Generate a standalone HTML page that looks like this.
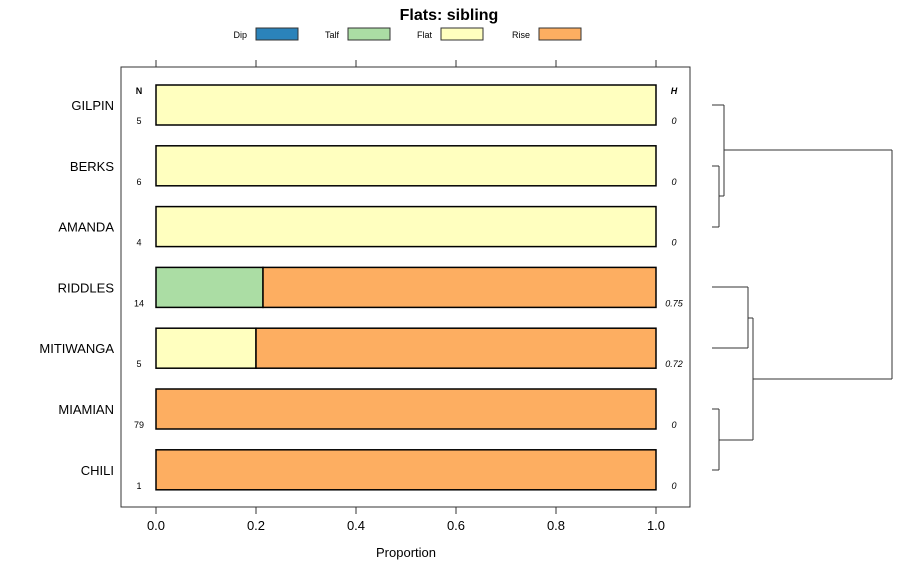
<!DOCTYPE html>
<html><head><meta charset="utf-8"><style>
body{margin:0;background:#fff;}
svg{font-family:"Liberation Sans",sans-serif;}
</style></head><body>
<svg id="c" width="900" height="580" viewBox="0 0 900 580">
<text x="449" y="20" font-size="16" font-weight="bold" text-anchor="middle">Flats: sibling</text>
<g id="legend"></g>
<rect x="121" y="67" width="569" height="440" fill="none" stroke="#333"/>
<g id="axes"></g>
<g id="bars"></g>
<g id="dendro" stroke="#333" fill="none"></g>
<text x="406" y="557" font-size="13" text-anchor="middle">Proportion</text>
<text x="139" y="94" font-size="9" font-weight="bold" text-anchor="middle">N</text>
<text x="674" y="94" font-size="9" font-weight="bold" font-style="italic" text-anchor="middle">H</text>
</svg>
<script>
const categories=["GILPIN","BERKS","AMANDA","RIDDLES","MITIWANGA","MIAMIAN","CHILI"];
const seriesNames=["Dip","Talf","Flat","Rise"];
const colors=["#2b83ba","#abdda4","#ffffbf","#fdae61"];
const dip=[0,0,0,0,0,0,0];
const talf=[0,0,0,0.214,0,0,0];
const flat=[1,1,1,0,0.2,0,0];
const rise=[0,0,0,0.786,0.8,1,1];
const nVals=["5","6","4","14","5","79","1"];
const hVals=["0","0","0","0.75","0.72","0","0"];
const ticks=[0,0.2,0.4,0.6,0.8,1.0];
const tickLabels=["0.0","0.2","0.4","0.6","0.8","1.0"];
const NS="http://www.w3.org/2000/svg";
const svg=document.getElementById('c');
const x=v=>156+v*500;
const y=i=>105+i*60.8;
function mk(t,a,p){const e=document.createElementNS(NS,t);for(const k in a)e.setAttribute(k,a[k]);(p||svg).appendChild(e);return e;}
const axes=document.getElementById('axes');
ticks.forEach((t,i)=>{
 const l1=mk('line',{x1:x(t),x2:x(t),y1:60,y2:67,stroke:'#333'},axes);
 
 
 const l2=mk('line',{x1:x(t),x2:x(t),y1:507,y2:514,stroke:'#333'},axes);
 
 
 const tx=mk('text',{x:x(t),y:530,'font-size':13,'text-anchor':'middle'},axes);
 tx.textContent=tickLabels[i];
 
 
});
const series=[dip,talf,flat,rise];
const bars=document.getElementById('bars');
categories.forEach((c,i)=>{
 const cy=y(i);
 const lab=mk('text',{x:114,y:cy+5,'font-size':13,'text-anchor':'end'},bars);
 lab.textContent=c;
 
 
 let acc=0;
 series.forEach((s,j)=>{
  if(s[i]>0){
   const r=mk('rect',{x:x(acc),y:cy-20,width:s[i]*500,height:40,fill:colors[j],stroke:'#000','stroke-width':1.5},bars);
   
   
   acc+=s[i];
  }
 });
 const n=mk('text',{x:139,y:cy+19,'font-size':9,'text-anchor':'middle'},bars);
 n.textContent=nVals[i];
 
 
 const h=mk('text',{x:674,y:cy+19,'font-size':9,'font-style':'italic','text-anchor':'middle'},bars);
 h.textContent=hVals[i];
 
 
});
const lg=document.getElementById('legend');
const lx=[256,348,441,539];
seriesNames.forEach((s,j)=>{
 const t=mk('text',{x:lx[j]-9,y:38,'font-size':9,'text-anchor':'end'},lg);
 t.textContent=s;
 
 
 const r=mk('rect',{x:lx[j],y:28,width:42,height:12,fill:colors[j],stroke:'#333'},lg);
 
 
});
const d=document.getElementById('dendro');
const segs=[[712,105,724,105],[712,166,719,166],[712,227,719,227],[719,166,719,227],[719,196,724,196],[724,105,724,196],[724,150,892,150],
[712,287,748,287],[712,348,748,348],[748,287,748,348],[712,409,719,409],[712,470,719,470],[719,409,719,470],[748,318,753,318],[719,440,753,440],[753,318,753,440],[753,379,892,379],[892,150,892,379]];
segs.forEach(s=>{const l=mk('line',{x1:s[0],y1:s[1],x2:s[2],y2:s[3]},d);
 
 });
</script>
</body></html>
